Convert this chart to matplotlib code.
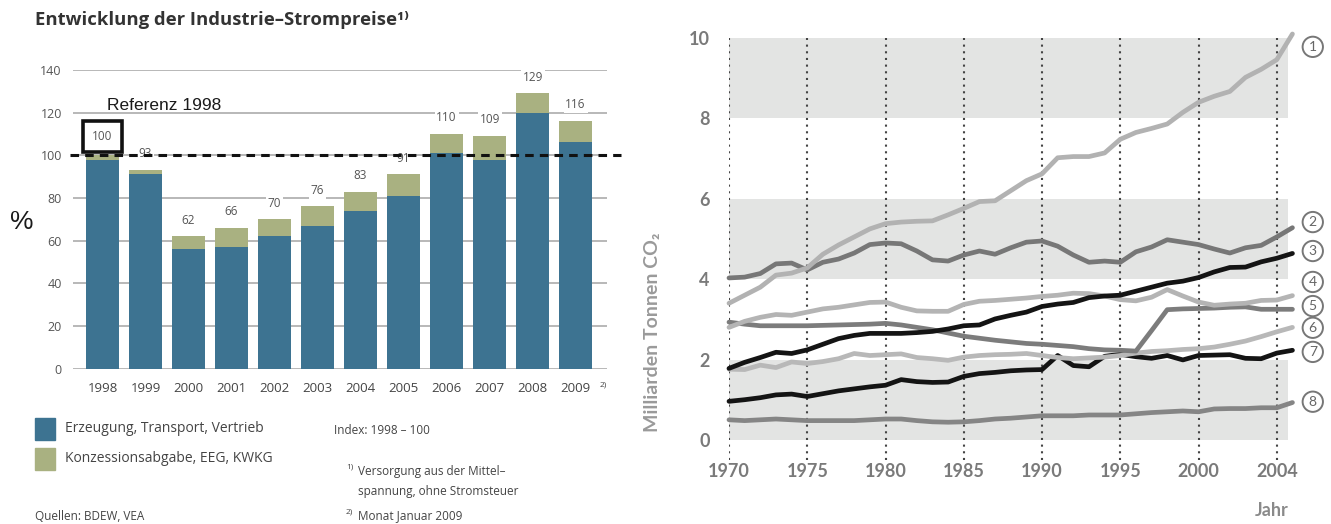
import numpy as np
import matplotlib
matplotlib.use("Agg")
import matplotlib.pyplot as plt
from matplotlib.patches import Rectangle

# --- left panel: industrial electricity price index -------------------------
price_years = ["1998", "1999", "2000", "2001", "2002", "2003",
               "2004", "2005", "2006", "2007", "2008", "2009"]
price_total = [100, 93, 62, 66, 70, 76, 83, 91, 110, 109, 129, 116]
price_base = [98, 91, 56, 57, 62, 67, 74, 81, 101, 98, 120, 106]
price_ticks = [0, 20, 40, 60, 80, 100, 120, 140]

# --- right panel: CO2 emissions (Mrd. t), 1970-2006 --------------------------
co2_years = list(range(1970, 2007))
co2_s1 = [3.40, 3.60, 3.80, 4.10, 4.15, 4.28, 4.62, 4.85, 5.05, 5.25,
          5.38, 5.42, 5.44, 5.45, 5.60, 5.76, 5.93, 5.95, 6.20, 6.45,
          6.62, 7.02, 7.05, 7.05, 7.14, 7.48, 7.65, 7.75, 7.86, 8.15,
          8.40, 8.55, 8.67, 9.02, 9.22, 9.46, 10.10]
co2_s2 = [4.03, 4.05, 4.14, 4.38, 4.40, 4.23, 4.42, 4.50, 4.65, 4.86,
          4.90, 4.88, 4.70, 4.48, 4.45, 4.60, 4.70, 4.62, 4.78, 4.92,
          4.95, 4.82, 4.60, 4.42, 4.45, 4.42, 4.68, 4.80, 4.98, 4.92,
          4.86, 4.75, 4.65, 4.78, 4.84, 5.05, 5.28]
co2_s3 = [1.78, 1.93, 2.05, 2.18, 2.15, 2.24, 2.38, 2.52, 2.60, 2.65,
          2.65, 2.65, 2.67, 2.70, 2.76, 2.84, 2.86, 3.01, 3.10, 3.18,
          3.32, 3.38, 3.42, 3.54, 3.58, 3.60, 3.70, 3.80, 3.90, 3.95,
          4.04, 4.18, 4.29, 4.30, 4.43, 4.52, 4.64]
co2_s4 = [2.80, 2.95, 3.05, 3.12, 3.10, 3.18, 3.26, 3.30, 3.36, 3.42,
          3.43, 3.30, 3.21, 3.20, 3.20, 3.37, 3.45, 3.47, 3.50, 3.53,
          3.57, 3.60, 3.65, 3.64, 3.58, 3.49, 3.46, 3.55, 3.74, 3.58,
          3.43, 3.35, 3.38, 3.40, 3.47, 3.48, 3.59]
co2_s5 = [2.93, 2.88, 2.84, 2.84, 2.84, 2.84, 2.85, 2.86, 2.87, 2.88,
          2.90, 2.86, 2.80, 2.74, 2.66, 2.58, 2.53, 2.48, 2.44, 2.40,
          2.38, 2.35, 2.32, 2.27, 2.24, 2.23, 2.21, 2.72, 3.24, 3.26,
          3.27, 3.28, 3.30, 3.31, 3.25, 3.25, 3.25]
co2_s6 = [1.76, 1.75, 1.86, 1.80, 1.94, 1.90, 1.95, 2.02, 2.15, 2.10,
          2.12, 2.14, 2.05, 2.02, 1.98, 2.06, 2.10, 2.12, 2.13, 2.15,
          2.10, 2.05, 2.02, 2.04, 2.06, 2.10, 2.16, 2.20, 2.22, 2.25,
          2.27, 2.31, 2.38, 2.46, 2.57, 2.69, 2.80]
co2_s7 = [0.96, 1.00, 1.05, 1.12, 1.14, 1.08, 1.15, 1.22, 1.27, 1.32,
          1.36, 1.50, 1.45, 1.43, 1.44, 1.58, 1.65, 1.68, 1.72, 1.74,
          1.75, 2.10, 1.85, 1.82, 2.08, 2.13, 2.07, 2.03, 2.10, 1.99,
          2.10, 2.11, 2.12, 2.03, 2.02, 2.16, 2.23]
co2_s8 = [0.50, 0.48, 0.50, 0.52, 0.50, 0.48, 0.48, 0.48, 0.48, 0.50,
          0.52, 0.52, 0.48, 0.45, 0.44, 0.45, 0.48, 0.52, 0.54, 0.57,
          0.60, 0.60, 0.60, 0.62, 0.62, 0.62, 0.65, 0.68, 0.70, 0.72,
          0.70, 0.77, 0.78, 0.78, 0.80, 0.80, 0.93]
co2_series = [co2_s1, co2_s2, co2_s3, co2_s4, co2_s5, co2_s6, co2_s7, co2_s8]
co2_colors = ["#b2b2b2", "#777777", "#141414", "#b4b4b4",
              "#7c7c7c", "#b8b8b8", "#141414", "#858585"]
co2_label_y = [9.78, 5.42, 4.70, 3.93, 3.33, 2.79, 2.19, 0.95]
co2_tick_pos = [1970, 1975, 1980, 1985, 1990, 1995, 2000, 2005]
co2_tick_lbl = ["1970", "1975", "1980", "1985", "1990", "1995", "2000", "2004"]

W, H = 1331, 524
fig = plt.figure(figsize=(W / 100, H / 100), dpi=100)


def fx(px):
    return px / W


def fy(py):
    return 1 - py / H


def px_rect(x0, y0, x1, y1):
    return [fx(x0), fy(y1), (x1 - x0) / W, (y1 - y0) / H]


sans = ["Open Sans", "DejaVu Sans"]
text_grey = "#444444"
blue = "#3d7391"
olive = "#a9b181"

# ---------------------------------------------------------------- left chart
ax = fig.add_axes(px_rect(73, 70, 607, 368.5))
x = np.arange(len(price_years))
green = [t - b for t, b in zip(price_total, price_base)]
ax.bar(x, price_base, width=0.77, color=blue, zorder=2)
ax.bar(x, green, bottom=price_base, width=0.77, color=olive, zorder=2)
ax.set_xlim(-0.686, 11.73)
ax.set_ylim(0, 140)
for v in price_ticks:
    ax.axhline(v, color="#b8b8b8", lw=1.4, zorder=1)
ax.set_yticks(price_ticks)
ax.set_yticklabels([str(v) for v in price_ticks], family=sans,
                   fontsize=9, color="#555555")
ax.set_xticks(x)
ax.set_xticklabels(price_years, family=sans, fontsize=9.5, color=text_grey)
ax.tick_params(length=0)
ax.tick_params(axis="y", pad=8)
ax.tick_params(axis="x", pad=10)
for s in ax.spines.values():
    s.set_visible(False)

for i, t in enumerate(price_total):
    if i == 0:
        box = dict(boxstyle="square,pad=0.75", fc="white", ec="#111111", lw=2.6)
    else:
        box = dict(boxstyle="square,pad=0.15", fc="white", ec="none")
    ax.annotate(str(t), xy=(i, t), xytext=(0, 9 if i == 0 else 7),
                textcoords="offset points", ha="center", va="bottom",
                family=sans, fontsize=8.5, color="#555555", bbox=box, zorder=4)

# dashed reference line at 100
ax.plot([-0.76, 12.05], [100, 100], ls=(0, (2.8, 2.0)), color="#111111",
        lw=2.2, clip_on=False, zorder=5)
ax.annotate("2)", xy=(11, 0), xytext=(17, -12), textcoords="offset points",
            ha="left", va="center", family=sans, fontsize=6, color=text_grey,
            annotation_clip=False)

fig.text(fx(35), fy(20), "Entwicklung der Industrie–Strompreise¹⁾",
         family=sans, fontsize=13.3, weight="bold", color="#333333",
         va="center")
fig.text(fx(107), fy(105), "Referenz 1998", family="Liberation Sans",
         fontsize=12.5, color="#1a1a1a", va="center")
fig.text(fx(22), fy(222), "%", family="Liberation Sans", fontsize=19,
         color="#1a1a1a", ha="center", va="center")

# legend and notes below the bars
fig.add_artist(Rectangle((fx(35), fy(440)), 20 / W, 22 / H,
                         transform=fig.transFigure, color=blue))
fig.add_artist(Rectangle((fx(35), fy(470)), 20 / W, 22 / H,
                         transform=fig.transFigure, color=olive))
fig.text(fx(65), fy(428), "Erzeugung, Transport, Vertrieb", family=sans,
         fontsize=10, color=text_grey, va="center")
fig.text(fx(65), fy(459), "Konzessionsabgabe, EEG, KWKG", family=sans,
         fontsize=10, color=text_grey, va="center")
fig.text(fx(334), fy(430), "Index: 1998 – 100", family=sans, fontsize=8.5,
         color=text_grey, va="center")
fig.text(fx(346), fy(467), "1)", family=sans, fontsize=6, color=text_grey,
         va="center")
fig.text(fx(358), fy(472), "Versorgung aus der Mittel–", family=sans,
         fontsize=8.5, color=text_grey, va="center")
fig.text(fx(358), fy(492), "spannung, ohne Stromsteuer", family=sans,
         fontsize=8.5, color=text_grey, va="center")
fig.text(fx(346), fy(512), "2)", family=sans, fontsize=6, color=text_grey,
         va="center")
fig.text(fx(358), fy(516), "Monat Januar 2009", family=sans, fontsize=8.5,
         color=text_grey, va="center")
fig.text(fx(35), fy(516), "Quellen: BDEW, VEA", family=sans, fontsize=8.5,
         color=text_grey, va="center")

# --------------------------------------------------------------- right chart
bold = ["Lato", "DejaVu Sans"]
ax2 = fig.add_axes(px_rect(729, 38, 1294, 460))
ax2.set_xlim(1970, 2006.1)
ax2.set_ylim(-0.5, 10)
for lo in (0, 4, 8):
    ax2.fill_between([co2_years[0], 2005.7], lo, lo + 2, color="#e3e4e3",
                     lw=0, zorder=0)
ax2.vlines(co2_tick_pos, -0.5, 10, colors="#444444", linestyles=(0, (1, 2.2)),
           lw=1.5, zorder=1)
for k in range(len(co2_series) - 1, -1, -1):
    ax2.plot(co2_years, co2_series[k], color=co2_colors[k], lw=3.4,
             solid_capstyle="round", solid_joinstyle="round",
             clip_on=False, zorder=3)
for n, yv in enumerate(co2_label_y, start=1):
    ax2.text(2007.3, yv, str(n), family=bold, fontsize=10, color="#666666",
             ha="center", va="center", clip_on=False,
             bbox=dict(boxstyle="circle,pad=0.3", fc="white", ec="#777777",
                       lw=1.4))

ax2.set_yticks([0, 2, 4, 6, 8, 10])
ax2.set_yticklabels(["0", "2", "4", "6", "8", "10"], family=bold,
                    fontsize=13, weight="bold", color="#7a7a7a")
ax2.set_xticks(co2_tick_pos)
ax2.set_xticklabels(co2_tick_lbl, family=bold, fontsize=13, weight="bold",
                    color="#7a7a7a")
ax2.tick_params(length=0)
ax2.tick_params(axis="y", pad=14)
ax2.tick_params(axis="x", pad=2)
for s in ax2.spines.values():
    s.set_visible(False)

fig.text(fx(652), fy(332), "Milliarden Tonnen CO₂", family=bold, fontsize=14,
         weight="bold", color="#9a9a9a", rotation=90, ha="center", va="center")
fig.text(fx(1272), fy(510), "Jahr", family=bold, fontsize=13, weight="bold",
         color="#8a8a8a", ha="center", va="center")

fig.savefig("out.png", dpi=100)
